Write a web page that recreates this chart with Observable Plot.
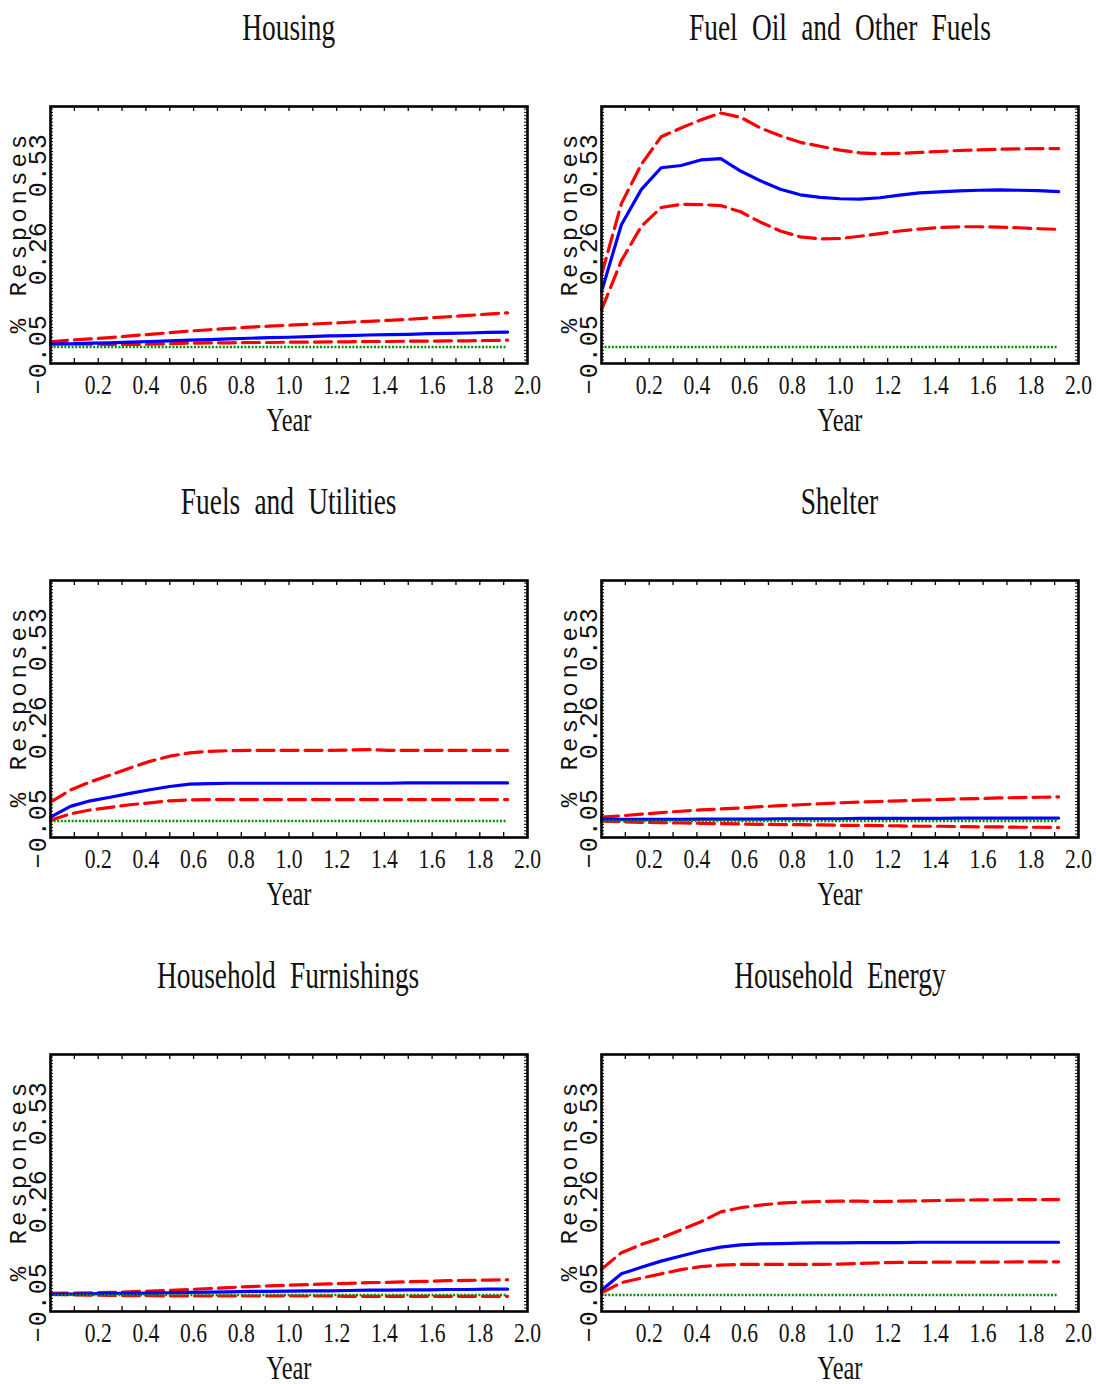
<!DOCTYPE html>
<html><head><meta charset="utf-8">
<script src="https://cdn.jsdelivr.net/npm/d3@7"></script>
<script src="https://cdn.jsdelivr.net/npm/@observablehq/plot@0.6"></script>
<style>
body{margin:0;background:#fff;}
#grid{display:grid;grid-template-columns:548px 548px;width:1096px;}
.cell{height:474px;overflow:visible;}
.title{height:70px;box-sizing:border-box;padding-top:9px;text-align:center;font-family:"Liberation Serif",serif;font-size:37px;line-height:37px;white-space:nowrap;color:#111;}
.title span{display:inline-block;transform:scaleX(0.74);word-spacing:10px;}
svg{display:block;}
</style></head>
<body><div id="grid"></div>
<script>
// ---- data ----
const panelTitles = ["Housing","Fuel Oil and Other Fuels","Fuels and Utilities","Shelter","Household Furnishings","Household Energy"];
const months = [0,1,2,3,4,5,6,7,8,9,10,11,12,13,14,15,16,17,18,19,20,21,22,23];

const housingUpper = [0.016,0.021,0.025,0.029,0.034,0.039,0.044,0.049,0.053,0.057,0.061,0.064,0.067,0.070,0.073,0.076,0.079,0.082,0.085,0.089,0.093,0.097,0.101,0.105];
const housingMean  = [0.009,0.010,0.012,0.013,0.015,0.017,0.019,0.021,0.023,0.025,0.027,0.029,0.030,0.032,0.034,0.035,0.037,0.038,0.039,0.041,0.042,0.043,0.045,0.046];
const housingLower = [0.012,0.010,0.009,0.008,0.008,0.009,0.010,0.012,0.013,0.013,0.014,0.014,0.015,0.015,0.016,0.016,0.017,0.017,0.018,0.018,0.019,0.019,0.020,0.021];

const fuelOilUpper = [0.222,0.440,0.560,0.645,0.672,0.697,0.718,0.705,0.672,0.648,0.628,0.616,0.604,0.596,0.593,0.594,0.597,0.600,0.603,0.605,0.607,0.608,0.609,0.609];
const fuelOilMean  = [0.170,0.375,0.483,0.550,0.557,0.574,0.578,0.540,0.510,0.484,0.467,0.459,0.455,0.454,0.458,0.466,0.473,0.476,0.479,0.481,0.482,0.481,0.480,0.477];
const fuelOilLower = [0.114,0.265,0.370,0.428,0.438,0.437,0.434,0.415,0.383,0.356,0.338,0.332,0.333,0.340,0.348,0.356,0.362,0.367,0.369,0.369,0.368,0.366,0.363,0.361];

const utilUpper = [0.058,0.095,0.120,0.141,0.163,0.183,0.199,0.209,0.214,0.216,0.217,0.217,0.217,0.217,0.217,0.218,0.219,0.217,0.217,0.217,0.217,0.217,0.217,0.217];
const utilMean  = [0.012,0.045,0.062,0.073,0.085,0.096,0.106,0.113,0.115,0.116,0.116,0.116,0.116,0.116,0.116,0.116,0.116,0.116,0.117,0.117,0.117,0.117,0.117,0.117];
const utilLower = [0.002,0.022,0.034,0.042,0.050,0.056,0.062,0.065,0.066,0.066,0.066,0.066,0.066,0.066,0.066,0.066,0.066,0.066,0.066,0.066,0.066,0.066,0.066,0.066];

const shelterUpper = [0.012,0.016,0.021,0.026,0.030,0.034,0.037,0.040,0.044,0.047,0.050,0.053,0.056,0.058,0.060,0.062,0.064,0.066,0.068,0.069,0.071,0.072,0.073,0.074];
const shelterMean  = [0.005,0.005,0.005,0.005,0.005,0.006,0.006,0.006,0.006,0.007,0.007,0.007,0.007,0.008,0.008,0.008,0.008,0.008,0.009,0.009,0.009,0.009,0.009,0.009];
const shelterLower = [0.000,-0.002,-0.004,-0.005,-0.006,-0.007,-0.008,-0.009,-0.010,-0.011,-0.011,-0.012,-0.013,-0.013,-0.014,-0.015,-0.016,-0.016,-0.017,-0.018,-0.018,-0.019,-0.019,-0.020];

const furnUpper = [0.005,0.006,0.007,0.008,0.010,0.012,0.014,0.017,0.020,0.023,0.026,0.028,0.030,0.032,0.034,0.036,0.038,0.039,0.041,0.042,0.044,0.045,0.046,0.047];
const furnMean  = [0.003,0.003,0.004,0.005,0.005,0.006,0.007,0.008,0.009,0.010,0.011,0.011,0.012,0.013,0.013,0.014,0.015,0.015,0.016,0.016,0.017,0.017,0.018,0.018];
const furnLower = [0.002,0.001,0.000,-0.001,-0.002,-0.002,-0.003,-0.003,-0.003,-0.003,-0.003,-0.003,-0.003,-0.003,-0.003,-0.004,-0.004,-0.004,-0.004,-0.004,-0.004,-0.004,-0.004,-0.004];

const energyUpper = [0.079,0.130,0.155,0.175,0.200,0.225,0.255,0.268,0.276,0.282,0.285,0.287,0.288,0.288,0.287,0.288,0.289,0.290,0.291,0.292,0.292,0.293,0.293,0.293];
const energyMean  = [0.015,0.065,0.085,0.104,0.120,0.135,0.147,0.154,0.157,0.158,0.159,0.160,0.160,0.161,0.161,0.161,0.162,0.162,0.162,0.162,0.162,0.162,0.162,0.162];
const energyLower = [0.007,0.038,0.052,0.065,0.078,0.087,0.092,0.094,0.094,0.094,0.094,0.094,0.095,0.097,0.099,0.100,0.100,0.101,0.101,0.101,0.101,0.102,0.102,0.102];

const xTickValues = [0.2,0.4,0.6,0.8,1.0,1.2,1.4,1.6,1.8,2.0];
const yTickValues = [-0.05,0.26,0.53];
const yTickLabels = ["\u22120.05","0.26","0.53"];
const yAxisTitle = "% Responses";
const xAxisTitle = "Year";

const series = [
  [housingUpper, housingMean, housingLower],
  [fuelOilUpper, fuelOilMean, fuelOilLower],
  [utilUpper, utilMean, utilLower],
  [shelterUpper, shelterMean, shelterLower],
  [furnUpper, furnMean, furnLower],
  [energyUpper, energyMean, energyLower]
];

// ---- layout ----
const W = 548, H = 365, MT = 36, MB = 72;
const FW = 477, FH = H - MT - MB;
const yDomain = [-0.0505, 0.738];
const xMinor = d3.range(1, 20).map(k => k / 10);
const yMinor = d3.range(-4, 74).map(k => k / 100);
const labelMap = new Map(yTickValues.map((v, i) => [v, yTickLabels[i]]));
const RED = "#ff0000", BLUE = "#0000ff", GREEN = "#008f00";
const SERIF = "Liberation Serif", MONO = "Liberation Mono";

const grid = document.getElementById("grid");
panelTitles.forEach((title, p) => {
  const left = p % 2 === 0;
  const ML = left ? 50 : 53, MR = W - ML - FW;
  const [up, mean, low] = series[p];
  const rows = months.map((m, i) => ({x: m / 12, upper: up[i], mean: mean[i], lower: low[i]}));
  const cell = document.createElement("div");
  cell.className = "cell";
  const t = document.createElement("div");
  t.className = "title";
  t.style.paddingLeft = ML + "px";
  t.style.paddingRight = MR + "px";
  const s = document.createElement("span");
  s.textContent = title;
  t.appendChild(s);
  cell.appendChild(t);

  const chart = Plot.plot({
    width: W, height: H,
    marginTop: MT, marginBottom: MB, marginLeft: ML, marginRight: MR,
    x: {domain: [0, 2]},
    y: {domain: yDomain},
    style: {background: "white", overflow: "visible"},
    marks: [
      Plot.tickX(xMinor, {x: d => d, insetTop: FH - 5, stroke: "black", strokeWidth: 1.3}),
      Plot.tickX(xMinor, {x: d => d, insetBottom: FH - 5, stroke: "black", strokeWidth: 1.3}),
      Plot.tickY(yMinor, {y: d => d, insetRight: FW - 3, stroke: "black", strokeWidth: 1}),
      Plot.tickY(yMinor, {y: d => d, insetLeft: FW - 3, stroke: "black", strokeWidth: 1}),
      Plot.axisX({ticks: xTickValues, tickFormat: d3.format(".1f"), tickSize: 0, tickPadding: 11,
        fontSize: 27, fontFamily: SERIF, label: null, fill: "#111"}),
      Plot.axisY({ticks: yTickValues, tickFormat: d => labelMap.get(d), tickSize: 0, tickPadding: 5,
        tickRotate: -90, fontSize: 25, fontFamily: MONO, label: null, dy: -9, fill: "#111"}),
      Plot.text([yAxisTitle], {frameAnchor: "left", textAnchor: "middle", rotate: -90, dx: -32, dy: -3, fontSize: 24, fontFamily: MONO, fill: "#111"}),
      Plot.text([xAxisTitle], {frameAnchor: "bottom", lineAnchor: "top", dy: 44, fontSize: 33, fontFamily: SERIF, fill: "#111"}),
      Plot.line(rows, {x: "x", y: "upper", stroke: RED, strokeWidth: 3.2, strokeDasharray: "17,7"}),
      Plot.line(rows, {x: "x", y: "lower", stroke: RED, strokeWidth: 3.2, strokeDasharray: "17,7"}),
      Plot.line(rows, {x: "x", y: "mean", stroke: BLUE, strokeWidth: 3.2}),
      Plot.ruleY([0], {x1: rows[0].x, x2: rows[rows.length - 1].x, stroke: GREEN, strokeWidth: 2.6, strokeDasharray: "2,1.6"}),
      Plot.frame({stroke: "black", strokeWidth: 2.6})
    ]
  });
  // condensed serif look for x tick labels and axis title
  chart.querySelectorAll('g[aria-label="x-axis tick label"] text').forEach(el => {
    el.setAttribute("transform", (el.getAttribute("transform") || "") + " scale(0.8,1)");
  });
  chart.querySelectorAll("text").forEach(el => {
    if (el.textContent === xAxisTitle) el.setAttribute("transform", (el.getAttribute("transform") || "") + " scale(0.74,1)");
    if (el.textContent === yAxisTitle) el.style.letterSpacing = "4px";
  });
  chart.querySelectorAll('g[aria-label="y-axis tick label"] text').forEach(el => { el.style.letterSpacing = "1px"; });
  cell.appendChild(chart);
  grid.appendChild(cell);
});
</script>
</body></html>
